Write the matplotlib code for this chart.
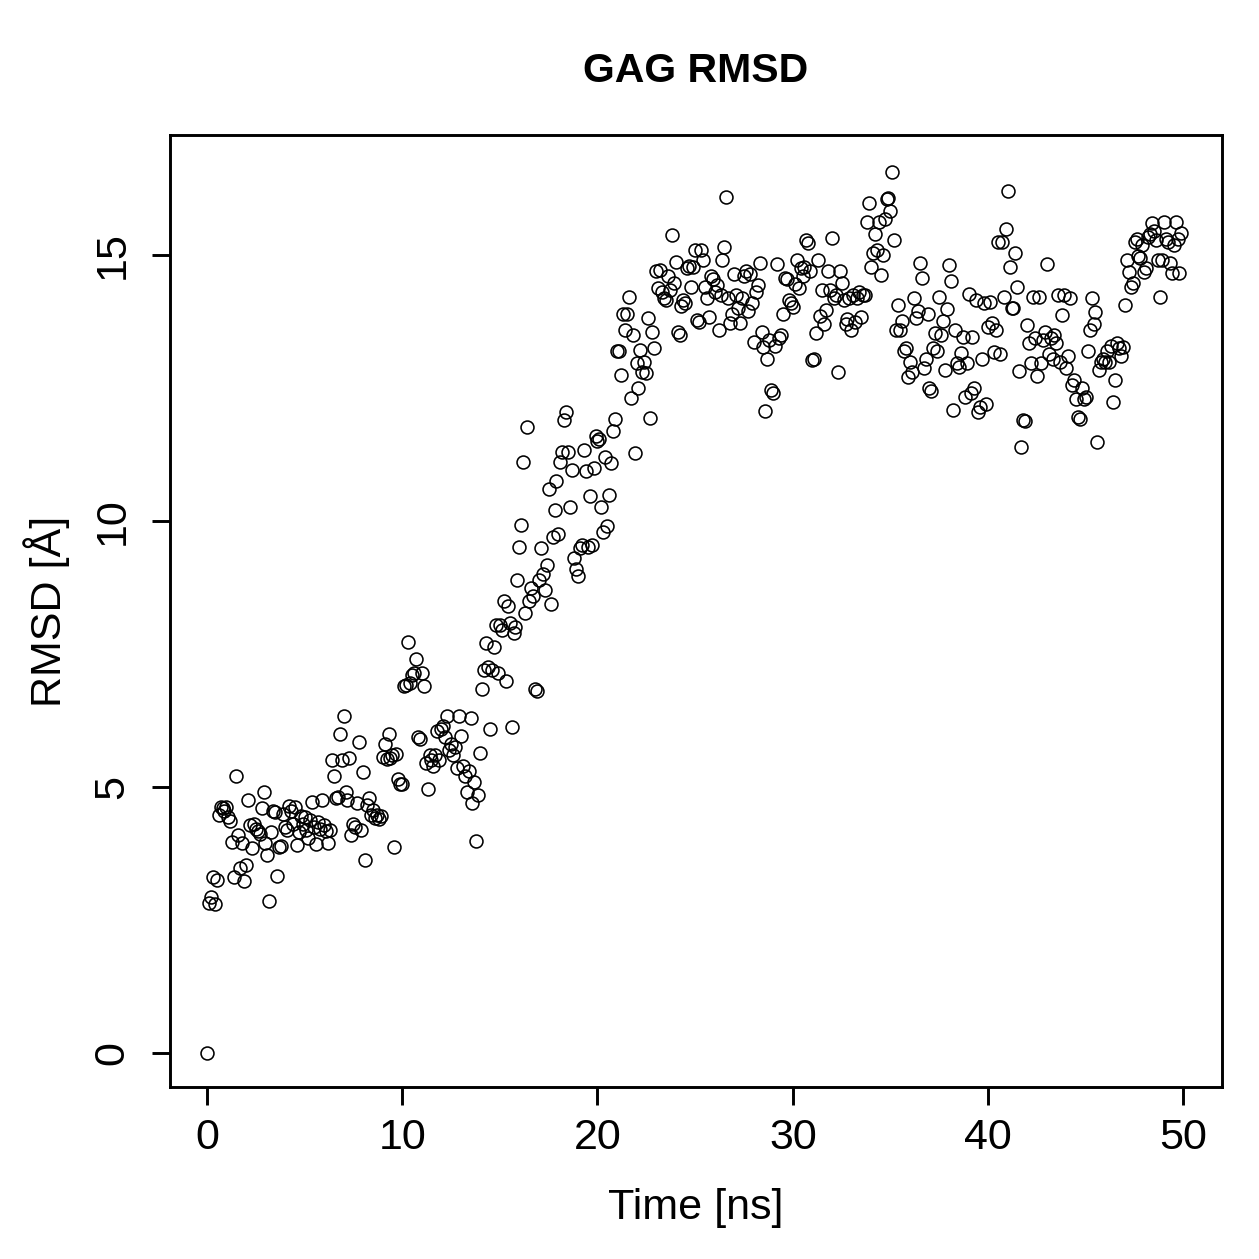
import numpy as np
import matplotlib
matplotlib.use("Agg")
import matplotlib.pyplot as plt

plt.rcParams['font.family'] = ['Liberation Sans', 'DejaVu Sans']

# RMSD values (Å), one every 0.1 ns, grouped per ns
rmsd_ns00 = [0.00, 2.82, 2.93, 3.31, 2.80, 3.25, 4.47, 4.62, 4.60, 4.55]
rmsd_ns01 = [4.62, 4.44, 4.37, 3.97, 3.31, 5.20, 4.10, 3.48, 3.95, 3.24]
rmsd_ns02 = [3.53, 4.75, 4.28, 3.85, 4.30, 4.22, 4.18, 4.12, 4.60, 4.91]
rmsd_ns03 = [3.95, 3.72, 2.86, 4.16, 4.55, 4.53, 3.33, 3.88, 3.90, 4.50]
rmsd_ns04 = [4.25, 4.20, 4.65, 4.55, 4.30, 4.62, 3.91, 4.15, 4.45, 4.30]
rmsd_ns05 = [4.43, 4.20, 4.05, 4.38, 4.72, 4.25, 3.92, 4.35, 4.22, 4.75]
rmsd_ns06 = [4.28, 4.18, 3.95, 4.20, 5.50, 5.20, 4.80, 4.82, 6.00, 5.50]
rmsd_ns07 = [6.33, 4.90, 4.75, 5.55, 4.10, 4.30, 4.25, 4.70, 5.85, 4.20]
rmsd_ns08 = [5.29, 3.63, 4.66, 4.80, 4.47, 4.57, 4.42, 4.48, 4.40, 4.45]
rmsd_ns09 = [5.56, 5.80, 5.52, 6.00, 5.55, 5.60, 3.87, 5.62, 5.15, 5.05]
rmsd_ns10 = [5.05, 6.90, 6.92, 7.73, 6.95, 7.10, 7.15, 7.40, 5.95, 5.90]
rmsd_ns11 = [7.15, 6.90, 5.45, 4.96, 5.60, 5.50, 5.40, 5.60, 6.05, 5.50]
rmsd_ns12 = [6.10, 6.15, 5.95, 6.33, 5.70, 5.80, 5.60, 5.75, 5.35, 6.33]
rmsd_ns13 = [5.96, 5.40, 5.20, 4.90, 5.30, 6.30, 4.70, 5.10, 3.99, 4.85]
rmsd_ns14 = [5.64, 6.84, 7.20, 7.71, 7.25, 6.09, 7.20, 7.64, 8.05, 7.15]
rmsd_ns15 = [8.05, 7.95, 8.50, 7.00, 8.40, 8.08, 6.13, 7.90, 8.00, 8.89]
rmsd_ns16 = [9.52, 9.92, 11.11, 8.27, 11.77, 8.50, 8.74, 8.60, 6.85, 6.80]
rmsd_ns17 = [8.90, 9.49, 9.00, 8.70, 9.17, 10.60, 8.45, 9.70, 10.20, 10.75]
rmsd_ns18 = [9.75, 11.11, 11.30, 11.90, 12.05, 11.30, 10.27, 10.96, 9.30, 9.10]
rmsd_ns19 = [8.97, 9.50, 9.55, 11.33, 10.95, 9.52, 10.47, 9.55, 11.00, 11.60]
rmsd_ns20 = [11.50, 11.55, 10.27, 9.80, 11.20, 9.90, 10.50, 11.10, 11.70, 11.92]
rmsd_ns21 = [13.20, 13.20, 12.74, 13.90, 13.60, 13.90, 14.21, 12.31, 13.50, 11.28]
rmsd_ns22 = [12.97, 12.50, 13.22, 12.80, 13.00, 12.78, 13.82, 11.94, 13.55, 13.25]
rmsd_ns23 = [14.70, 14.38, 14.72, 14.30, 14.20, 14.15, 14.60, 14.35, 15.38, 14.47]
rmsd_ns24 = [14.87, 13.55, 13.50, 14.05, 14.15, 14.10, 14.75, 14.80, 14.40, 14.77]
rmsd_ns25 = [15.09, 13.78, 13.75, 15.09, 14.90, 14.40, 14.20, 13.84, 14.60, 14.56]
rmsd_ns26 = [14.30, 14.43, 13.59, 14.25, 14.90, 15.15, 16.10, 14.20, 13.72, 13.90]
rmsd_ns27 = [14.64, 14.25, 14.00, 13.72, 14.20, 14.60, 14.70, 13.95, 14.65, 14.10]
rmsd_ns28 = [13.37, 14.30, 14.43, 14.85, 13.56, 13.27, 12.07, 13.05, 13.40, 12.46]
rmsd_ns29 = [12.40, 13.30, 14.83, 13.45, 13.50, 13.90, 14.57, 14.55, 14.15, 14.10]
rmsd_ns30 = [14.03, 14.45, 14.90, 14.38, 14.75, 14.60, 14.78, 15.28, 15.22, 14.70]
rmsd_ns31 = [13.03, 13.05, 13.54, 14.90, 13.85, 14.35, 13.70, 13.97, 14.70, 14.35]
rmsd_ns32 = [15.32, 14.20, 14.25, 12.81, 14.70, 14.47, 14.15, 13.70, 13.80, 14.20]
rmsd_ns33 = [13.60, 14.25, 13.75, 14.20, 14.30, 13.83, 14.25, 14.25, 15.63, 15.98]
rmsd_ns34 = [14.78, 15.05, 15.39, 15.10, 15.63, 14.62, 15.00, 15.68, 16.05, 16.08]
rmsd_ns35 = [15.83, 16.57, 15.28, 13.60, 14.06, 13.59, 13.76, 13.20, 13.25, 12.70]
rmsd_ns36 = [12.99, 12.80, 14.19, 13.82, 13.95, 14.86, 14.57, 12.88, 13.05, 13.90]
rmsd_ns37 = [12.50, 12.45, 13.25, 13.53, 13.20, 14.21, 13.50, 13.77, 12.85, 13.98]
rmsd_ns38 = [14.81, 14.52, 12.09, 13.59, 12.97, 12.90, 13.16, 13.47, 12.33, 12.97]
rmsd_ns39 = [14.27, 12.40, 13.47, 12.50, 14.15, 12.05, 12.14, 13.05, 14.10, 12.20]
rmsd_ns40 = [13.65, 14.12, 13.72, 13.18, 13.60, 15.25, 13.15, 15.25, 14.22, 15.50]
rmsd_ns41 = [16.21, 14.77, 14.00, 14.00, 15.04, 14.40, 12.82, 11.40, 11.90, 11.88]
rmsd_ns42 = [13.68, 13.35, 12.97, 14.22, 13.45, 12.72, 14.22, 12.97, 13.40, 13.55]
rmsd_ns43 = [14.83, 13.15, 13.45, 13.05, 13.50, 13.35, 14.25, 13.00, 13.87, 14.25]
rmsd_ns44 = [12.87, 13.10, 14.20, 12.55, 12.65, 12.30, 11.95, 11.92, 12.50, 12.30]
rmsd_ns45 = [12.33, 13.20, 13.60, 14.19, 13.70, 13.93, 11.49, 12.84, 13.00, 13.05]
rmsd_ns46 = [13.00, 13.20, 13.00, 13.30, 12.24, 12.65, 13.35, 13.25, 13.10, 13.27]
rmsd_ns47 = [14.06, 14.90, 14.69, 14.40, 14.47, 15.25, 15.30, 14.98, 14.95, 15.20]
rmsd_ns48 = [14.69, 14.75, 15.35, 15.40, 15.60, 15.45, 15.28, 14.90, 14.22, 14.90]
rmsd_ns49 = [15.62, 15.30, 15.25, 14.85, 14.67, 15.20, 15.62, 15.30, 14.67, 15.41]

rmsd = (rmsd_ns00 + rmsd_ns01 + rmsd_ns02 + rmsd_ns03 + rmsd_ns04 + rmsd_ns05 +
        rmsd_ns06 + rmsd_ns07 + rmsd_ns08 + rmsd_ns09 + rmsd_ns10 + rmsd_ns11 +
        rmsd_ns12 + rmsd_ns13 + rmsd_ns14 + rmsd_ns15 + rmsd_ns16 + rmsd_ns17 +
        rmsd_ns18 + rmsd_ns19 + rmsd_ns20 + rmsd_ns21 + rmsd_ns22 + rmsd_ns23 +
        rmsd_ns24 + rmsd_ns25 + rmsd_ns26 + rmsd_ns27 + rmsd_ns28 + rmsd_ns29 +
        rmsd_ns30 + rmsd_ns31 + rmsd_ns32 + rmsd_ns33 + rmsd_ns34 + rmsd_ns35 +
        rmsd_ns36 + rmsd_ns37 + rmsd_ns38 + rmsd_ns39 + rmsd_ns40 + rmsd_ns41 +
        rmsd_ns42 + rmsd_ns43 + rmsd_ns44 + rmsd_ns45 + rmsd_ns46 + rmsd_ns47 +
        rmsd_ns48 + rmsd_ns49)
time_step_ns = 0.1
time_ns = np.arange(len(rmsd)) * time_step_ns

x_ticks = [0, 10, 20, 30, 40, 50]
y_ticks = [0, 5, 10, 15]

fig = plt.figure(figsize=(12.59, 12.59), dpi=100)
ax = fig.add_axes([0.135, 0.1366, 0.8355, 0.7562])

ax.plot(time_ns, rmsd, linestyle='none', marker='o', markersize=9.3,
        markerfacecolor='none', markeredgecolor='black', markeredgewidth=1.15)

ax.set_xlim(-1.89, 51.97)
ax.set_ylim(-0.64, 17.26)
ax.set_xticks(x_ticks)
ax.set_yticks(y_ticks)
ax.set_xticklabels([str(v) for v in x_ticks])
ax.set_yticklabels([str(v) for v in y_ticks], rotation=90, va='center')

for s in ax.spines.values():
    s.set_linewidth(2.1)
ax.tick_params(direction='out', length=13, width=2.1, labelsize=31, pad=9)
ax.tick_params(axis='y', pad=14)

ax.set_xlabel('Time [ns]', fontsize=31, labelpad=22)
ax.set_ylabel('RMSD [Å]', fontsize=31, labelpad=16)
ax.set_title('GAG RMSD', fontsize=29.5, fontweight='bold', pad=38)

fig.savefig('out.png', dpi=100)
